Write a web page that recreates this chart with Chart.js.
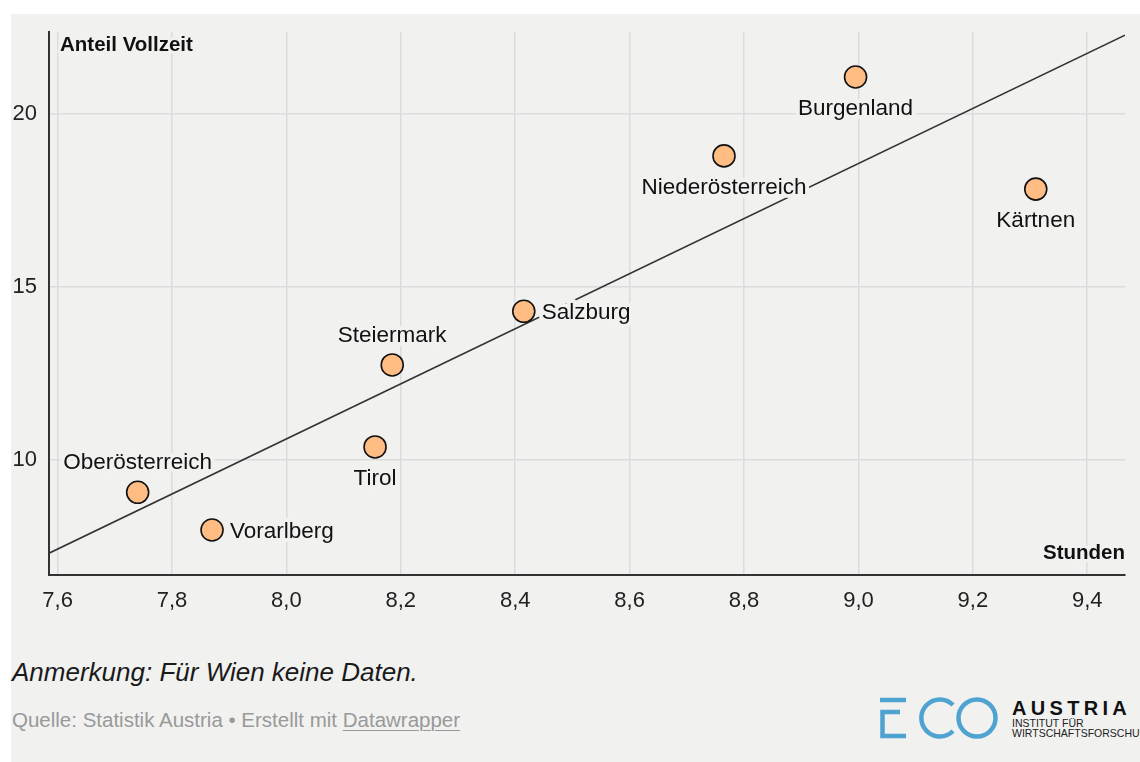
<!DOCTYPE html>
<html lang="de">
<head>
<meta charset="utf-8">
<title>Anteil Vollzeit nach Stunden</title>
<script src="https://cdn.jsdelivr.net/npm/chart.js@4/dist/chart.umd.min.js"></script>
<style>
  html, body { margin: 0; padding: 0; background: #fff; }
  body { width: 1140px; height: 762px; position: relative; overflow: hidden;
         font-family: "Liberation Sans", Arial, Helvetica, sans-serif; }
  #panel { position: absolute; left: 11px; top: 14px; width: 1129px; height: 748px; background: #f1f1f0; }
  #chart { position: absolute; left: 0; top: 0; }
  #note { position: absolute; left: 12px; top: 657px; font-size: 26px; font-style: italic; color: #1a1a1a; }
  #source { position: absolute; left: 12px; top: 708px; font-size: 20.5px; color: #999; }
  #source u { text-decoration-thickness: 1px; text-underline-offset: 3px; }
  #logo { position: absolute; left: 870px; top: 690px; }
</style>
</head>
<body>
<div id="panel"></div>
<canvas id="chart" width="1140" height="640"></canvas>
<div id="note">Anmerkung: Für Wien keine Daten.</div>
<div id="source">Quelle: Statistik Austria • Erstellt mit <u>Datawrapper</u></div>
<svg id="logo" width="270" height="60" viewBox="0 0 270 60">
  <g fill="none" stroke="#4fa3d1" stroke-width="4.5">
    <path d="M10 10 H36"/>
    <path d="M36 46 H12.5 V22 H30"/>
    <path d="M83 15 A18.5 18.5 0 1 0 83 41"/>
    <circle cx="107" cy="28" r="18.5"/>
  </g>
  <text x="142" y="25" font-family="Liberation Sans, Arial" font-weight="bold" font-size="20" letter-spacing="4.3" fill="#111">AUSTRIA</text>
  <text x="142" y="37" font-family="Liberation Sans, Arial" font-size="10.5" fill="#222">INSTITUT FÜR</text>
  <text x="142" y="47" font-family="Liberation Sans, Arial" font-size="10.5" fill="#222">WIRTSCHAFTSFORSCHUNG</text>
</svg>

<script>
// Bundesländer: Arbeitsstunden vs. Anteil Vollzeit
const regions = ["Oberösterreich", "Vorarlberg", "Tirol", "Steiermark", "Salzburg", "Niederösterreich", "Burgenland", "Kärtnen"];
const hours = [7.74, 7.87, 8.155, 8.185, 8.415, 8.765, 8.995, 9.31];
const fullTimeShare = [9.07, 7.98, 10.38, 12.75, 14.3, 18.79, 21.07, 17.83];

// Trendlinie (Endpunkte am Rand der Achsen)
const trendX = [7.585, 9.466];
const trendY = [7.31, 22.28];

const xTicks = [7.6, 7.8, 8.0, 8.2, 8.4, 8.6, 8.8, 9.0, 9.2, 9.4];
const yTicks = [10, 15, 20];

// where each label sits relative to its dot
const labelSide = {
    "Oberösterreich": "top",
    "Vorarlberg": "right",
    "Tirol": "bottom",
    "Steiermark": "top",
    "Salzburg": "right",
    "Niederösterreich": "bottom",
    "Burgenland": "bottom",
    "Kärtnen": "bottom"
};

const FONT = '"Liberation Sans", Arial, Helvetica, sans-serif';
const BG = "#f1f1f0";

const pointLabels = {
    id: "pointLabels",
    afterDatasetsDraw(chart) {
        const ctx = chart.ctx;
        const meta = chart.getDatasetMeta(1);
        ctx.save();
        ctx.font = "22.5px " + FONT;
        ctx.lineJoin = "round";
        ctx.lineWidth = 8;
        ctx.strokeStyle = BG;
        ctx.fillStyle = "#111";
        meta.data.forEach((pt, i) => {
            const name = regions[i];
            const side = labelSide[name];
            let x = pt.x, y = pt.y;
            if (side === "top") { ctx.textAlign = "center"; y -= 29; }
            else if (side === "bottom") { ctx.textAlign = "center"; y += 32; }
            else { ctx.textAlign = "left"; x += 18; y += 2; }
            ctx.textBaseline = "middle";
            ctx.strokeText(name, x, y);
            ctx.fillText(name, x, y);
        });
        // Achsentitel
        const area = chart.chartArea;
        ctx.font = "bold 20.5px " + FONT;
        ctx.textBaseline = "middle";
        ctx.lineWidth = 6;
        ctx.textAlign = "left";
        ctx.strokeText("Anteil Vollzeit", area.left + 11, 45);
        ctx.fillText("Anteil Vollzeit", area.left + 11, 45);
        ctx.textAlign = "right";
        ctx.strokeText("Stunden", area.right, area.bottom - 22);
        ctx.fillText("Stunden", area.right, area.bottom - 22);
        ctx.restore();
    }
};

new Chart(document.getElementById("chart"), {
    data: {
        datasets: [
            {
                type: "line",
                data: trendX.map((x, i) => ({ x: x, y: trendY[i] })),
                borderColor: "#333",
                borderWidth: 1.6,
                pointRadius: 0,
                order: 2
            },
            {
                type: "scatter",
                data: hours.map((h, i) => ({ x: h, y: fullTimeShare[i] })),
                backgroundColor: "#ffbd83",
                borderColor: "#111",
                borderWidth: 1.6,
                pointRadius: 11,
                order: 1
            }
        ]
    },
    options: {
        responsive: false,
        animation: false,
        devicePixelRatio: 1,
        layout: { padding: { top: 32, right: 15, left: 0, bottom: 0 } },
        plugins: { legend: { display: false }, tooltip: { enabled: false } },
        scales: {
            x: {
                type: "linear",
                min: 7.585,
                max: 9.466,
                afterBuildTicks: s => { s.ticks = xTicks.map(v => ({ value: v })); },
                afterFit: s => { s.height = 65; },
                ticks: {
                    callback: v => v.toFixed(1).replace(".", ","),
                    font: { family: FONT, size: 22 },
                    color: "#222",
                    padding: 13,
                    maxRotation: 0
                },
                grid: { color: "#dcdcdc", lineWidth: 1.5, drawTicks: false },
                border: { color: "#333", width: 2 }
            },
            y: {
                type: "linear",
                min: 6.68,
                max: 22.37,
                afterBuildTicks: s => { s.ticks = yTicks.map(v => ({ value: v })); },
                afterFit: s => { s.width = 49; },
                ticks: {
                    callback: v => String(v),
                    font: { family: FONT, size: 22 },
                    color: "#222",
                    padding: 12
                },
                grid: { color: "#dcdcdc", lineWidth: 1.5, drawTicks: false },
                border: { color: "#333", width: 2 }
            }
        }
    },
    plugins: [pointLabels]
});
</script>
</body>
</html>
